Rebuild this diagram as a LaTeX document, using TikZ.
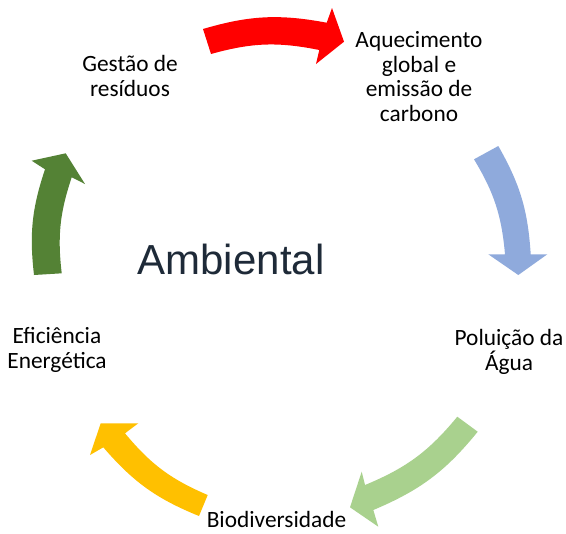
\documentclass[tikz,border=0pt]{standalone}
\usepackage{fontspec}
\newfontfamily\labelfont{Carlito}
\newfontfamily\titlefont{Liberation Sans}
\definecolor{arrRed}{HTML}{FF0000}
\definecolor{arrBlue}{HTML}{8FAADC}
\definecolor{arrLightGreen}{HTML}{A9D18E}
\definecolor{arrGold}{HTML}{FFC000}
\definecolor{arrDarkGreen}{HTML}{548235}
\definecolor{titleInk}{HTML}{1E2A38}
\begin{document}
\begin{tikzpicture}[x=0.75pt,y=-0.75pt,
  lbl/.style={inner sep=0pt, align=center, anchor=base,
    font=\labelfont\fontsize{17.5}{18.4}\selectfont, text=black},
  ttl/.style={inner sep=0pt, anchor=base,
    font=\titlefont\fontsize{31.5}{36}\selectfont, text=titleInk}]
\useasboundingbox (0,0) rectangle (566,533);
\fill[white] (0,0) rectangle (566,533);

% labels (anchor=base is the baseline of the last line)
\node[lbl] (gest) at (130,96) {Gestão de\\resíduos};
\node[lbl] (aq) at (419,121.5) {Aquecimento\\global e\\emissão de\\carbono};
\node[lbl] (pol) at (509,370.5) {Poluição da\\Água};
\node[lbl] (bio) at (276.5,527) {Biodiversidade};
\node[lbl] (ef) at (57,368) {Eficiência\\Energética};
\node[ttl] (amb) at (231,274) {Ambiental};

% red arrow
\fill[arrRed] (203,29) to[bend left=13.5] (326.7,22.7) -- (332,8) -- (344,41.7)
  -- (316,64) -- (319.3,50) to[bend right=13.5] (211,54) -- cycle;
% blue arrow
\fill[arrBlue] (498.3,146) to[bend left=13] (530.7,254.3) -- (547.3,254.3) -- (518.3,275)
  -- (488.3,254.3) -- (505,254.3) to[bend right=13] (474,159.3) -- cycle;
% light green arrow
\fill[arrLightGreen] (477.7,431.7) to[bend left=14] (373.3,510) -- (378.3,526.7) -- (350,507.3)
  -- (361.7,471.7) -- (365,485) to[bend right=14] (457.3,416.7) -- cycle;
% gold arrow
\fill[arrGold] (199,516) to[bend left=13.5] (103.3,447.3) -- (90,455) -- (100.7,423.3)
  -- (138.3,423.3) -- (125,433.3) to[bend right=13.5] (207.7,495) -- cycle;
% dark green arrow
\fill[arrDarkGreen] (34,275) to[bend left=12.5] (45,169.3) -- (31.7,160.7) -- (65.7,153.3)
  -- (85,184) -- (71.7,177.3) to[bend right=12.5] (61.7,273.3) -- cycle;
\end{tikzpicture}
\end{document}
